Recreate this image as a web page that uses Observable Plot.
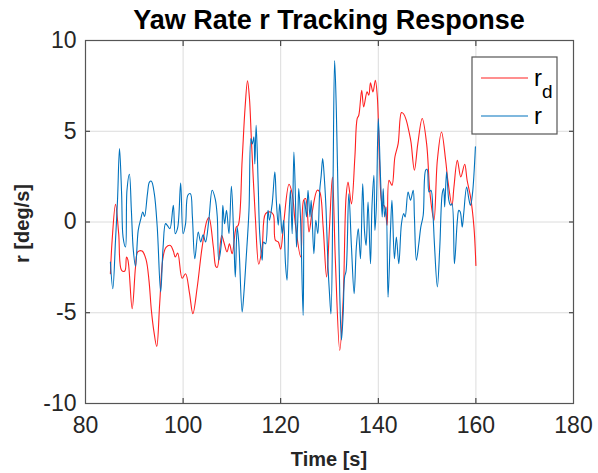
<!DOCTYPE html>
<html>
<head>
<meta charset="utf-8">
<script src="https://cdn.jsdelivr.net/npm/d3@7"></script>
<script src="https://cdn.jsdelivr.net/npm/@observablehq/plot@0.6"></script>
<style>
  html, body { margin: 0; padding: 0; background: #fff; }
  svg { display: block; }
</style>
</head>
<body>
<div id="chart"></div>
<script>
const titleText = "Yaw Rate r Tracking Response";
const xLabel = "Time [s]";
const yLabel = "r [deg/s]";
const xTicks = [80, 100, 120, 140, 160, 180];
const yTicks = [-10, -5, 0, 5, 10];

// Desired yaw rate r_d
const rdTime = [85.1,85.46,86.15,86.8,87.4,88.06,88.4,88.7,89.56,90.25,90.7,91.6,92.4,93.0,93.5,94.0,94.6,95.2,95.9,96.5,97.4,98.0,98.4,98.9,99.8,100.5,101.3,102.0,102.9,103.9,104.9,105.3,106.2,106.7,107.0,107.9,108.35,109.0,109.5,110.05,110.9,111.3,112.1,112.7,113.2,113.6,114.0,114.8,115.5,116.2,116.9,117.9,118.5,118.9,119.5,120.0,120.6,121.7,122.35,123.0,124.1,124.7,125.1,125.8,126.4,127.5,128.0,128.7,129.4,130.0,130.6,131.2,132.1,132.8,133.4,133.8,134.5,135.2,135.67,136.0,136.6,137.0,137.7,138.06,138.4,138.9,139.4,139.8,140.25,140.8,141.3,141.8,142.2,142.8,143.4,144.07,144.75,145.2,145.7,146.3,146.7,147.4,148.1,149.0,149.9,150.6,151.4,152.1,152.95,153.8,154.25,155.1,155.5,156.2,156.9,157.7,158.2,158.9,159.6,160.0];
const rdValues = [-2.85,-1.0,0.97,-0.64,-2.67,-2.7,-1.93,-2.1,-4.78,-2.48,-1.65,-1.6,-2.06,-3.2,-4.87,-6.0,-6.86,-4.5,-1.93,-1.4,-1.29,-1.6,-1.93,-1.71,-3.1,-2.85,-3.9,-5.05,-3.58,-1.38,0.09,0.24,-1.38,-2.45,-2.5,-0.74,-1.1,-1.65,-1.2,-1.75,-0.28,-0.18,3.4,6.3,7.78,6.8,4.5,0.28,-2.33,-1.38,0.46,0.55,0.4,-1.0,-1.1,-1.5,-0.1,2.08,1.56,-0.1,-1.93,1.2,1.29,-0.55,0.46,1.75,1.65,-0.28,-3.03,-0.28,2.48,-2.1,-7.08,-4.3,1.4,2.2,1.0,3.58,5.7,5.88,7.26,6.34,7.17,6.99,7.67,7.17,7.81,6.9,3.4,1.0,0.85,-0.18,2.3,2.02,3.58,4.32,6.03,5.95,5.64,4.96,4.4,2.85,4.32,5.7,4.32,1.56,0.09,3.4,4.96,3.4,2.3,0.92,1.93,3.4,2.48,3.18,2.3,1.38,-0.28,-2.39];

// Actual yaw rate r
const rTime = [85.1,85.6,86.15,86.56,86.97,87.4,87.7,88.2,88.5,89.0,89.4,89.8,90.25,90.8,91.3,91.75,92.1,92.7,93.1,93.5,94.1,94.7,95.4,95.9,96.4,96.8,97.3,98.0,98.4,98.9,99.5,100.0,100.5,100.97,101.5,101.9,102.4,103.1,103.6,104.1,104.6,105.3,105.96,106.6,107.0,107.3,107.9,108.14,108.5,108.9,109.4,109.9,110.4,110.7,111.08,111.4,112.1,112.45,112.9,113.5,113.9,114.2,114.5,114.7,114.97,115.4,115.7,116.2,116.5,116.9,117.4,117.7,118.25,118.8,119.1,119.5,119.8,120.3,120.6,120.98,121.3,121.7,122.0,122.35,122.7,123.0,123.24,123.5,123.7,124.05,124.6,124.9,125.3,125.6,126.0,126.25,126.8,127.2,127.6,128.0,128.3,128.6,128.97,129.3,129.7,130.0,130.3,130.7,131.05,131.4,131.8,132.1,132.45,132.8,133.1,133.4,133.96,134.5,135.05,135.5,135.9,136.35,136.8,137.2,137.5,137.9,138.4,138.7,139.1,139.3,139.6,140.0,140.45,140.8,141.0,141.3,141.6,142.0,142.5,142.8,143.3,143.7,144.2,144.75,145.2,145.5,146.1,146.6,147.15,147.4,147.8,148.3,148.7,149.2,149.7,150.0,150.4,150.8,151.2,151.5,152.1,152.6,153.1,153.4,153.6,154.0,154.45,154.8,155.1,155.6,156.2,156.5,156.8,157.2,157.5,158.1,158.6,158.9,159.3,159.9];
const rValues = [-2.2,-3.68,-1.0,1.2,4.04,1.56,-0.83,-1.38,1.75,2.63,0.64,-1.56,-2.44,-0.46,0.13,0.55,0.3,1.56,2.2,2.25,1.56,-0.28,-3.86,-1.38,-0.09,-0.2,-0.37,0.92,-0.64,-0.3,2.15,-0.64,-0.1,1.47,1.56,0.3,-2.02,-0.55,-1.1,-0.7,-1.1,0.18,1.75,1.25,0.3,-2.1,-1.0,0.92,-0.1,0.64,-0.64,1.97,-1.0,-3.03,-0.28,-1.1,-4.96,-3.95,-2.1,0.64,4.6,4.3,4.69,3.2,5.33,1.93,-0.64,-2.1,-1.1,-1.2,0.64,0.1,1.0,2.76,1.2,-0.18,1.0,-0.64,0.1,-2.3,-3.2,0.28,1.75,-0.64,3.86,1.56,-1.38,0.1,1.84,0.28,-5.15,1.2,0.28,1.75,0.28,1.2,-1.75,0.09,-0.64,1.75,2.57,3.49,2.3,0.64,-2.48,-3.95,-5.06,1.56,8.9,6.16,0.64,-3.95,-6.5,-5.06,-3.03,-2.7,1.56,-1.38,-3.95,-1.38,-0.37,-2.02,2.11,-0.6,-1.29,1.1,-2.3,0.83,2.57,-0.46,0.83,5.7,2.48,0.28,1.84,0.28,0.83,-4.14,-0.46,1.2,-2.02,-0.83,-2.3,-0.09,0.46,0.28,1.65,1.2,1.75,0.28,-2.11,-1.2,-0.3,0.37,2.85,2.9,1.65,1.75,0.46,-1.2,-3.58,-1.38,1.56,1.84,0.83,2.76,1.2,0.92,1.0,-2.3,0.09,0.64,0.55,-0.28,0.46,1.93,1.2,0.92,1.56,4.14];

const seriesNames = ["r_d", "r"];
const seriesColors = ["#ff2020", "#0072bd"];

const rdData = rdTime.map((t, i) => ({t, v: rdValues[i]}));
const rData = rTime.map((t, i) => ({t, v: rValues[i]}));

const W = 598, H = 473;
const mL = 85, mR = 25, mT = 40, mB = 70;
const font = "'Liberation Sans', Arial, Helvetica, sans-serif";

const chart = Plot.plot({
  width: W,
  height: H,
  marginLeft: mL,
  marginRight: mR,
  marginTop: mT,
  marginBottom: mB,
  style: {fontFamily: font, background: "#fff", color: "#262626"},
  x: {domain: [80, 180], ticks: xTicks},
  y: {domain: [-10, 10], ticks: yTicks},
  marks: [
    Plot.gridX(xTicks, {stroke: "#dcdcdc", strokeOpacity: 1}),
    Plot.gridY(yTicks, {stroke: "#dcdcdc", strokeOpacity: 1}),
    Plot.line(rdData, {x: "t", y: "v", stroke: seriesColors[0], strokeWidth: 1.1, curve: "catmull-rom"}),
    Plot.line(rData, {x: "t", y: "v", stroke: seriesColors[1], strokeWidth: 1.1, curve: "catmull-rom"}),
    Plot.axisX(xTicks, {anchor: "bottom", tickSize: 0, tickPadding: 13, fontSize: 23, label: null, tickFormat: d => String(d)}),
    Plot.axisY(yTicks, {anchor: "left", tickSize: 0, tickPadding: 9, fontSize: 23, label: null, tickFormat: d => String(d)}),
    Plot.axisX(xTicks, {anchor: "bottom", tickSize: -5, tickFormat: () => "", label: null, stroke: "#262626"}),
    Plot.axisX(xTicks, {anchor: "top", tickSize: -5, tickFormat: () => "", label: null, stroke: "#262626"}),
    Plot.axisY(yTicks, {anchor: "left", tickSize: -5, tickFormat: () => "", label: null, stroke: "#262626"}),
    Plot.axisY(yTicks, {anchor: "right", tickSize: -5, tickFormat: () => "", label: null, stroke: "#262626"}),
    Plot.frame({stroke: "#555", strokeWidth: 1.2})
  ]
});

document.getElementById("chart").appendChild(chart);
const svg = d3.select(chart);

// Title
svg.append("text")
  .attr("x", (mL + W - mR) / 2).attr("y", 29)
  .attr("text-anchor", "middle")
  .attr("font-family", font).attr("font-weight", "bold").attr("font-size", 27)
  .attr("fill", "#000")
  .text(titleText);

// X label
svg.append("text")
  .attr("x", (mL + W - mR) / 2).attr("y", 466)
  .attr("text-anchor", "middle")
  .attr("font-family", font).attr("font-weight", "bold").attr("font-size", 20)
  .attr("fill", "#262626")
  .text(xLabel);

// Y label
svg.append("text")
  .attr("transform", `translate(29, ${(mT + H - mB) / 2 + 2}) rotate(-90)`)
  .attr("text-anchor", "middle")
  .attr("font-family", font).attr("font-weight", "bold").attr("font-size", 20)
  .attr("fill", "#262626")
  .text(yLabel);

// Legend
const lg = svg.append("g");
lg.append("rect").attr("x", 472).attr("y", 57).attr("width", 85).attr("height", 77)
  .attr("fill", "#fff").attr("stroke", "#555").attr("stroke-width", 1.2);
const rows = [78, 116];
seriesNames.forEach((name, i) => {
  lg.append("line").attr("x1", 481).attr("x2", 528).attr("y1", rows[i]).attr("y2", rows[i])
    .attr("stroke", seriesColors[i]).attr("stroke-width", 1.1);
  const tx = lg.append("text").attr("x", 534).attr("y", rows[i] + 8)
    .attr("text-anchor", "start")
    .attr("font-family", font).attr("font-size", 24).attr("fill", "#000");
  const parts = name.split("_");
  tx.append("tspan").text(parts[0]);
  if (parts[1]) tx.append("tspan").attr("dy", 12).attr("font-size", 19).text(parts[1]);
});
</script>
</body>
</html>
